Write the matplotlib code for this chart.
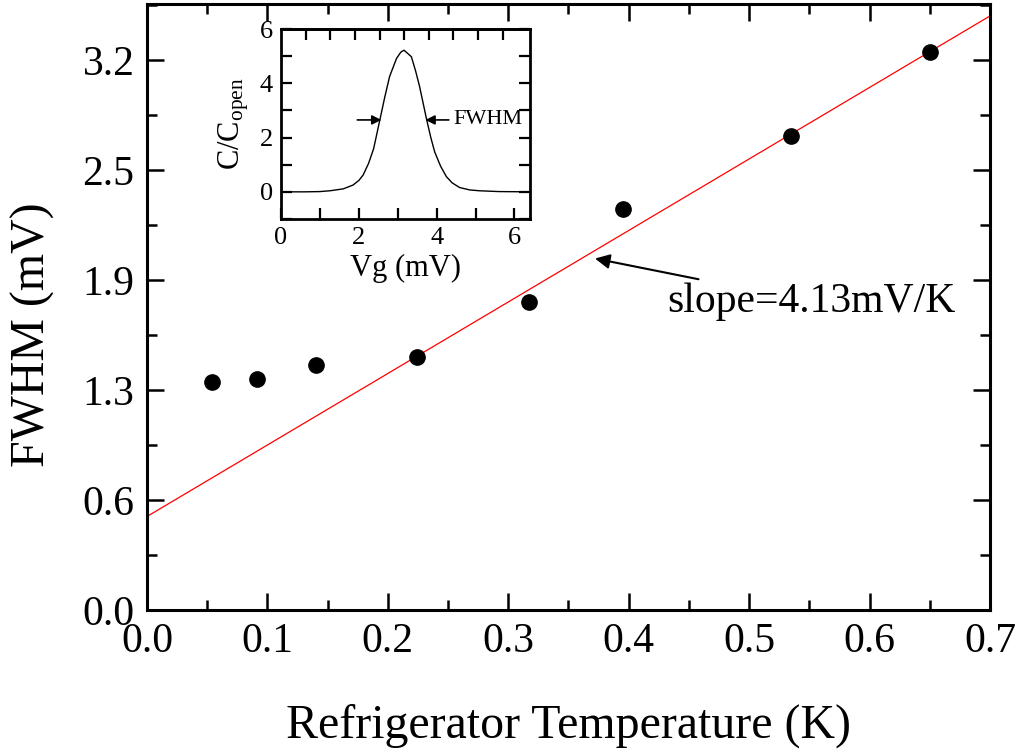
import matplotlib
matplotlib.use("Agg")
import matplotlib.pyplot as plt
import numpy as np
from matplotlib.ticker import MultipleLocator, FixedLocator

plt.rcParams['font.family'] = ['Liberation Serif', 'DejaVu Serif']
plt.rcParams['mathtext.fontset'] = 'custom'
plt.rcParams['mathtext.rm'] = 'Liberation Serif'
plt.rcParams['mathtext.it'] = 'Liberation Serif:italic'

# main data: FWHM vs refrigerator temperature
temp = [0.054, 0.091, 0.140, 0.2245, 0.317, 0.395, 0.535, 0.650]
fwhm = [1.319, 1.333, 1.415, 1.460, 1.781, 2.316, 2.738, 3.225]

# linear fit
slope = 4.13
intercept = 0.54
fit_x = [0.0, 0.7]

ytick_vals = [0.0, 0.635, 1.27, 1.905, 2.54, 3.175]
ytick_labels = ['0.0', '0.6', '1.3', '1.9', '2.5', '3.2']
xtick_vals = [0.0, 0.1, 0.2, 0.3, 0.4, 0.5, 0.6, 0.7]

# inset: single peak C/C_open vs Vg
vg = [0.0, 0.6, 1.0, 1.26, 1.6, 1.85, 2.0, 2.11, 2.25, 2.38, 2.54, 2.66, 2.79,
      2.97, 3.08, 3.16, 3.24, 3.35, 3.46, 3.56, 3.74, 3.85, 3.95, 4.1, 4.25,
      4.4, 4.59, 4.85, 5.1, 5.6, 6.4]
c_ratio = [0.0, 0.0, 0.01, 0.04, 0.11, 0.25, 0.42, 0.62, 1.05, 1.59, 2.65, 3.45,
           4.25, 4.92, 5.15, 5.22, 5.12, 4.98, 4.45, 3.89, 2.68, 2.0, 1.47, 0.95,
           0.56, 0.33, 0.16, 0.07, 0.04, 0.01, 0.0]

fig = plt.figure(figsize=(10.22, 7.52), dpi=100)
ax = fig.add_axes([0.1438, 0.1888, 0.8249, 0.8059])

ax.plot(fit_x, [intercept + slope * x for x in fit_x], color='red', lw=0.9)
ax.plot(temp, fwhm, 'o', color='black', ms=11)

ax.set_xlim(0, 0.7)
ax.set_ylim(0, 3.5)
ax.set_xticks(xtick_vals)
ax.set_xticklabels(['%.1f' % v for v in xtick_vals])
ax.xaxis.set_minor_locator(MultipleLocator(0.05))
ax.set_yticks(ytick_vals)
ax.set_yticklabels(ytick_labels)
ax.yaxis.set_minor_locator(FixedLocator([v + 0.3175 for v in ytick_vals]))

for s in ax.spines.values():
    s.set_linewidth(2.2)
ax.tick_params(which='both', direction='in', top=True, right=True, width=1.8,
               labelsize=30)
ax.tick_params(which='major', length=12)
ax.tick_params(which='minor', length=7)
ax.tick_params(axis='x', pad=9)
ax.tick_params(axis='y', pad=9)

ax.set_xlabel('Refrigerator Temperature (K)', fontsize=34.5)
ax.set_ylabel('FWHM (mV)', fontsize=34.5)
ax.xaxis.set_label_coords(0.5, -0.155)
ax.yaxis.set_label_coords(-0.109, 0.454)

ax.annotate('slope=4.13mV/K', xy=(0.372, 2.03), xytext=(0.432, 1.78),
            fontsize=30, va='center', ha='left',
            arrowprops=dict(arrowstyle='-|>', color='black', lw=1.5,
                            mutation_scale=22, shrinkA=2, shrinkB=0))

# inset
ins = fig.add_axes([0.275, 0.7088, 0.2436, 0.2526])
ins.plot(vg, c_ratio, color='black', lw=1.0)
ins.set_xlim(0, 6.4)
ins.set_ylim(-1, 6)
ins.xaxis.set_major_locator(MultipleLocator(2))
ins.xaxis.set_minor_locator(MultipleLocator(1))
ins.yaxis.set_major_locator(MultipleLocator(2))
ins.yaxis.set_minor_locator(MultipleLocator(1))
for s in ins.spines.values():
    s.set_linewidth(2.0)
ins.tick_params(which='both', direction='in', right=True, width=1.6,
                labelsize=19, length=8, pad=6)
top = ins.secondary_xaxis('top', functions=(lambda x: x / 0.633, lambda t: t * 0.633))
top.set_xticks(range(1, 10))
top.tick_params(direction='in', width=1.6, length=8, labeltop=False)
top.spines['top'].set_linewidth(2.0)

ins.set_xlabel('Vg (mV)', fontsize=22, labelpad=3)
ins.set_ylabel(r'C/C$_{\mathrm{open}}$', fontsize=22, labelpad=6)

ins.annotate('', xy=(2.58, 2.65), xytext=(1.96, 2.65),
             arrowprops=dict(arrowstyle='-|>', color='black', lw=1.2,
                             mutation_scale=14, shrinkA=0, shrinkB=0))
ins.annotate('FWHM', xy=(3.71, 2.65), xytext=(4.42, 2.65), fontsize=16,
             va='center', ha='left',
             arrowprops=dict(arrowstyle='-|>', color='black', lw=1.2,
                             mutation_scale=14, shrinkA=1, shrinkB=0))

fig.savefig('out.png', dpi=100)
